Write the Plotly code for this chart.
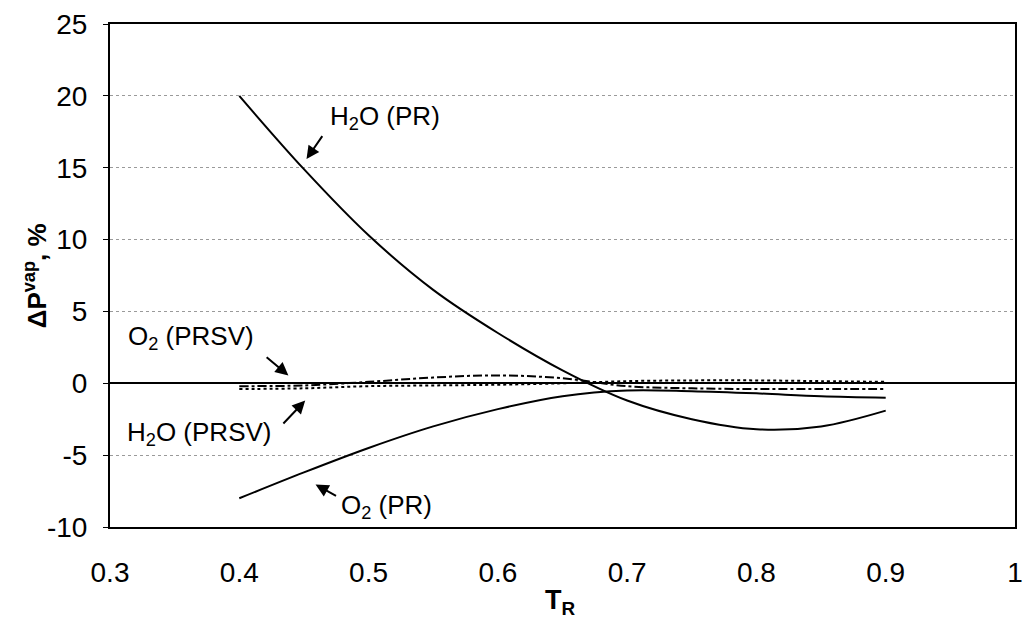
import plotly.graph_objects as go

# Reduced temperature grid
t_r = [0.40, 0.45, 0.50, 0.55, 0.60, 0.65, 0.70, 0.75, 0.80, 0.85, 0.90]

# Vapour-pressure deviation, %
h2o_pr = [20.0, 14.9, 10.3, 6.5, 3.5, 0.9, -1.2, -2.5, -3.2, -3.0, -1.9]
o2_pr = [-8.0, -6.2, -4.5, -3.0, -1.8, -0.9, -0.5, -0.55, -0.7, -0.9, -1.0]
o2_prsv = [-0.2, -0.15, 0.1, 0.4, 0.55, 0.35, -0.2, -0.35, -0.4, -0.4, -0.4]
h2o_prsv = [-0.4, -0.35, -0.2, -0.15, -0.1, 0.0, 0.15, 0.2, 0.2, 0.15, 0.1]

x_ticks = [0.3, 0.4, 0.5, 0.6, 0.7, 0.8, 0.9, 1.0]
x_tick_text = ["0.3", "0.4", "0.5", "0.6", "0.7", "0.8", "0.9", "1"]
y_ticks = [-10, -5, 0, 5, 10, 15, 20, 25]
y_tick_text = ["-10", "-5", "0", "5", "10", "15", "20", "25"]

FONT = "Liberation Sans"

fig = go.Figure()
fig.add_trace(go.Scatter(x=t_r, y=h2o_pr, mode="lines", line=dict(color="black", width=2), showlegend=False))
fig.add_trace(go.Scatter(x=t_r, y=o2_pr, mode="lines", line=dict(color="black", width=2), showlegend=False))
fig.add_trace(go.Scatter(x=t_r, y=o2_prsv, mode="lines", line=dict(color="black", width=2, dash="dashdot"), showlegend=False))
fig.add_trace(go.Scatter(x=t_r, y=h2o_prsv, mode="lines", line=dict(color="black", width=2, dash="dot"), showlegend=False))
for tr in fig.data:
    tr.line.shape = "spline"

labels = [
    # text, text x, text y, arrow tip x, tip y, tail x, tail y
    ("H<sub>2</sub>O (PR)", 0.513, 18.5, 0.452, 15.6, 0.465, 17.3),
    ("O<sub>2</sub> (PRSV)", 0.363, 3.2, 0.438, 0.55, 0.420, 1.9),
    ("H<sub>2</sub>O (PRSV)", 0.369, -3.5, 0.451, -1.2, 0.433, -2.9),
    ("O<sub>2</sub> (PR)", 0.514, -8.6, 0.459, -7.05, 0.476, -7.9),
]
for text, tx, ty, hx, hy, ax, ay in labels:
    fig.add_annotation(x=tx, y=ty, text=text, showarrow=False, xanchor="center", yanchor="middle",
                       font=dict(family=FONT, size=26, color="black"))
    fig.add_annotation(x=hx, y=hy, ax=ax, ay=ay, xref="x", yref="y", axref="x", ayref="y",
                       text="", showarrow=True, arrowhead=2, arrowsize=1.3, arrowwidth=2,
                       arrowcolor="black")

fig.add_annotation(x=-0.082, y=0.5, xref="paper", yref="paper", textangle=-90,
                   xanchor="center", yanchor="middle",
                   text="<b>\u0394P<sup>vap</sup>, %</b>", showarrow=False,
                   font=dict(family=FONT, size=26, color="black"))
fig.add_annotation(x=0.498, y=-0.150, xref="paper", yref="paper",
                   xanchor="center", yanchor="middle",
                   text="<b>T<sub>R</sub></b>", showarrow=False,
                   font=dict(family=FONT, size=27, color="black"))

tick_font = dict(family=FONT, size=28, color="black")

fig.update_layout(
    width=1032, height=625,
    margin=dict(l=110, r=9, t=21, b=98),
    paper_bgcolor="white", plot_bgcolor="white",
    font=dict(family=FONT, size=28, color="black"),
    xaxis=dict(range=[0.3, 1.0], tickvals=x_ticks, ticktext=x_tick_text, tickfont=tick_font,
               showgrid=False, zeroline=False, showline=True, linecolor="black",
               linewidth=2, mirror=True, ticks="", ticklabelstandoff=19),
    yaxis=dict(range=[-10, 25], tickvals=y_ticks, ticktext=y_tick_text, tickfont=tick_font,
               showgrid=True, gridcolor="#9a9a9a", griddash="dot", gridwidth=1,
               zeroline=True, zerolinecolor="black", zerolinewidth=2,
               showline=True, linecolor="black", linewidth=2, mirror=True,
               ticks="outside", ticklen=5, tickcolor="black", ticklabelstandoff=10),
)

fig.write_html("out.html")
